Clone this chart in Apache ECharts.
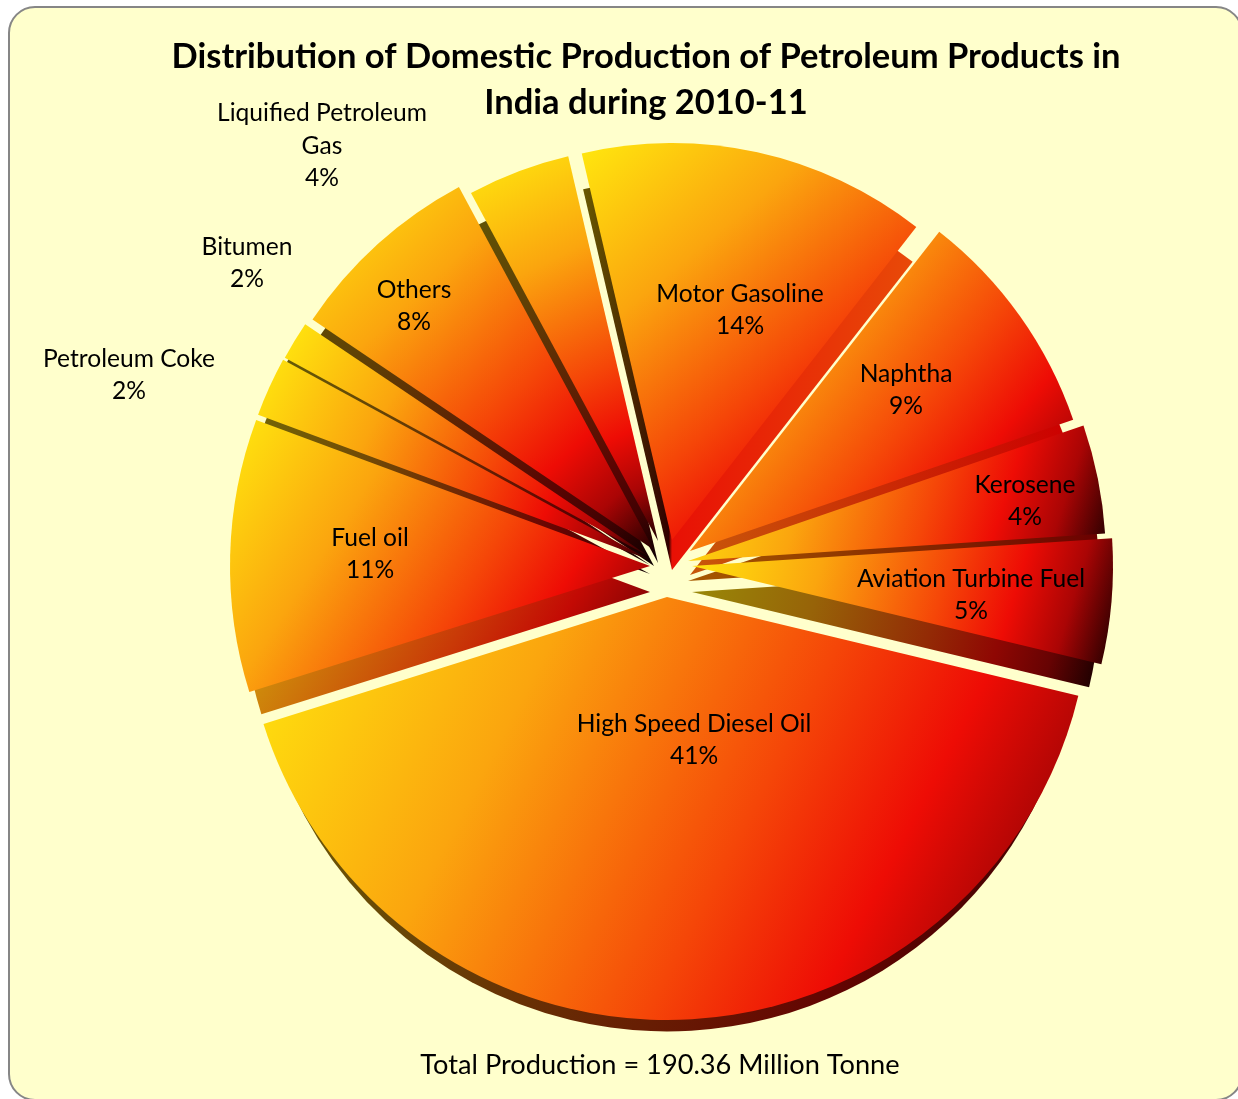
<!DOCTYPE html>
<html><head><meta charset="utf-8">
<style>html,body{margin:0;padding:0;background:#fff}#c{width:1238px;height:1099px}</style>
<script src="https://cdn.jsdelivr.net/npm/echarts@6/dist/echarts.min.js"></script>
</head><body><div id="c"></div>
<script>
const products = ['High Speed Diesel Oil','Fuel oil','Petroleum Coke','Bitumen','Others','Liquified Petroleum\nGas','Motor Gasoline','Naphtha','Kerosene','Aviation Turbine Fuel'];
const shares = [41.4,10.5,2.3,1.5,7.7,4.2,14.2,9.2,4.2,4.8];
const titleText = 'Distribution of Domestic Production of Petroleum Products in\nIndia during 2010-11';
const totalText = 'Total Production = 190.36 Million Tonne';

// exploded-slice layout (styling, not data)
const apex = [[667,597],[650,566],[650,560],[650,557],[654,550],[658,541],[672,540],[690,551],[688,561],[692,566]];
const reach = [423,420,418,416,412,395,397,405,418,421];
const labelAt = [[694,740],[370,554],[129,375],[247,263],[414,306],[322,146],[740,310],[906,390],[1025,501],[971,595]];
const sideShade = [.42,.82,.45,.4,.38,.38,.62,.85,.6,.6];
const sideDepth = [22,26,14,8,16,22,30,24,20,26];
const sideScale = [.975,.97,.99,1,.985,.97,.985,.985,.985,.97];
const sideHorizontal = {
  6:[[0,'#6a5a00'],[.26,'#300000'],[.27,'#E81005'],[1,'#E84A08']],
  7:[[0,'#C8580A'],[1,'#CC0000']],
  8:[[0,'#A85A00'],[1,'#6a0000']]
};

const topStops = [[0,[255,232,14]],[.3,[251,165,14]],[.58,[245,70,8]],[.74,[238,12,5]],[.87,[170,5,5]],[1,[30,0,0]]];
function grad(mult){
  return {type:'linear',x:0,y:0,x2:1,y2:1,colorStops:topStops.map(([o,c])=>({offset:o,color:`rgb(${c.map(v=>Math.round(v*mult)).join(',')})`}))};
}
function sideGrad(i){
  const h = sideHorizontal[i];
  if(h) return {type:'linear',x:0,y:0,x2:1,y2:0,colorStops:h.map(([o,c])=>({offset:o,color:c}))};
  return grad(sideShade[i]);
}
const font = 'Lato, Carlito, sans-serif';

function sliceSeries(i, side){
  return {
    type:'pie', silent:true, animation:false, z: side?1:2,
    startAngle:346.5, clockwise:true,
    center: side ? [apex[i][0], apex[i][1]+sideDepth[i]] : apex[i],
    radius: side ? reach[i]*sideScale[i] : reach[i],
    avoidLabelOverlap:false,
    labelLine:{show:false},
    labelLayout: side ? undefined : function(p){
      if(p.dataIndex!==i) return {};
      return {x:labelAt[i][0],y:labelAt[i][1],align:'center',verticalAlign:'middle'};
    },
    data: shares.map((v,j)=>({
      value:v, name:products[j],
      itemStyle: j===i ? {color: side?sideGrad(i):grad(1)} : {color:'rgba(0,0,0,0)'},
      label: (j===i && !side) ? {show:true,position:'inside',color:'#000',fontFamily:font,fontSize:24.6,lineHeight:32.5,align:'center',
        formatter:products[j]+'\n'+Math.round(v)+'%'} : {show:false}
    }))
  };
}
const series=[];
products.forEach((_,i)=>series.push(sliceSeries(i,true)));
products.forEach((_,i)=>series.push(sliceSeries(i,false)));

const chart = echarts.init(document.getElementById('c'),null,{renderer:'canvas'});
chart.setOption({
  animation:false,
  backgroundColor:'#fff',
  graphic:[{type:'rect',z:-10,silent:true,shape:{x:9,y:7,width:1233,height:1093,r:26},style:{fill:'#FFFFCC',stroke:'#868686',lineWidth:2}}],
  title:[
    {text:titleText,left:641,top:29,textAlign:'center',textStyle:{fontFamily:font,fontWeight:'bold',fontSize:34.5,lineHeight:46,color:'#000'}},
    {text:totalText,left:655,top:1047,textAlign:'center',textStyle:{fontFamily:font,fontWeight:'normal',fontSize:27.2,color:'#000'}}
  ],
  series
});
</script></body></html>
